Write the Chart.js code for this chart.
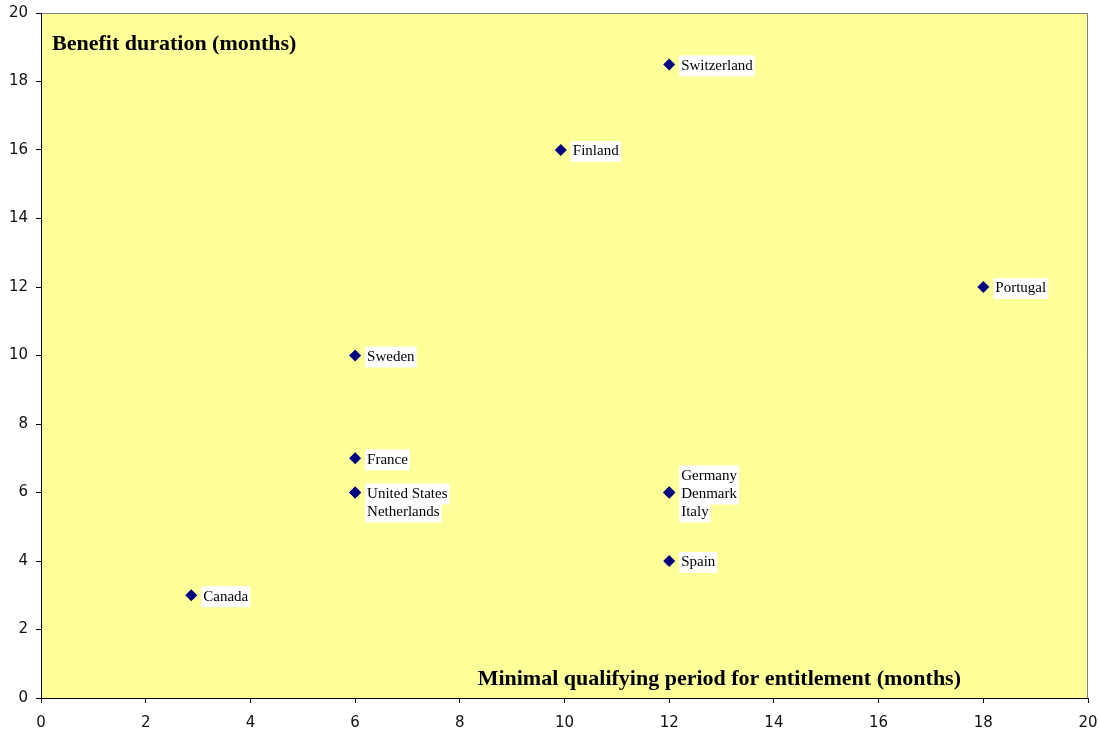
<!DOCTYPE html>
<html>
<head>
<meta charset="utf-8">
<script src="https://cdn.jsdelivr.net/npm/chart.js@4.4.1/dist/chart.umd.min.js"></script>
<style>
  html, body { margin: 0; padding: 0; background: #ffffff; }
  #wrap { width: 1100px; height: 731px; }
</style>
</head>
<body>
<div id="wrap"><canvas id="c" width="1100" height="731"></canvas></div>
<script>
// Unemployment benefit schemes by country
const countries = ['Canada', 'Sweden', 'France', 'United States', 'Netherlands', 'Finland',
  'Switzerland', 'Germany', 'Denmark', 'Italy', 'Spain', 'Portugal'];
// Minimal qualifying period for entitlement (months)
const qualifyingMonths = [2.87, 6, 6, 6, 6, 9.93, 12, 12, 12, 12, 12, 18];
// Benefit duration (months)
const durationMonths = [3, 10, 7, 6, 6, 16, 18.5, 6, 6, 6, 4, 12];
const xTicks = [0, 2, 4, 6, 8, 10, 12, 14, 16, 18, 20];
const yTicks = [0, 2, 4, 6, 8, 10, 12, 14, 16, 18, 20];
const xTitle = 'Minimal qualifying period for entitlement (months)';
const yTitle = 'Benefit duration (months)';

const points = countries.map((c, i) => ({ x: qualifyingMonths[i], y: durationMonths[i], label: c }));

const plotFrame = {
  id: 'plotFrame',
  beforeDraw(chart) {
    const { ctx, chartArea: a } = chart;
    ctx.save();
    ctx.fillStyle = '#FFFF99';
    ctx.fillRect(a.left, a.top, a.right - a.left, a.bottom - a.top);
    ctx.strokeStyle = '#808080';
    ctx.lineWidth = 1;
    ctx.beginPath();
    ctx.moveTo(a.left, a.top + 0.5);
    ctx.lineTo(a.right - 0.5, a.top + 0.5);
    ctx.lineTo(a.right - 0.5, a.bottom);
    ctx.stroke();
    ctx.restore();
  }
};

const pointLabels = {
  id: 'pointLabels',
  afterDatasetsDraw(chart) {
    const { ctx, chartArea: a } = chart;
    const meta = chart.getDatasetMeta(0);
    // labels sharing one point are stacked in a column
    const groups = {};
    points.forEach((p, i) => {
      const k = p.x + ',' + p.y;
      (groups[k] = groups[k] || []).push(i);
    });
    const lineH = 18;
    ctx.save();
    ctx.font = '15px "Liberation Serif", "Times New Roman", serif';
    ctx.textBaseline = 'middle';
    Object.values(groups).forEach(idx => {
      const start = -Math.floor((idx.length - 1) / 2);
      idx.forEach((i, j) => {
        const el = meta.data[i];
        const tx = el.x + 12;
        const ty = el.y + (start + j) * lineH;
        const w = ctx.measureText(points[i].label).width;
        ctx.fillStyle = '#ffffff';
        ctx.fillRect(tx - 2, ty - 9, w + 4, 21);
        ctx.fillStyle = '#000000';
        ctx.fillText(points[i].label, tx, ty + 1.5);
      });
    });
    // axis titles inside the plot area
    ctx.font = 'bold 22px "Liberation Serif", "Times New Roman", serif';
    ctx.fillStyle = '#000000';
    ctx.textAlign = 'left';
    ctx.fillText(yTitle, a.left + 11, a.top + 31);
    ctx.textAlign = 'right';
    ctx.fillText(xTitle, a.right - 127, a.bottom - 19);
    ctx.restore();
  }
};

new Chart(document.getElementById('c'), {
  type: 'scatter',
  data: {
    datasets: [{
      data: points,
      pointStyle: 'rectRot',
      radius: 6,
      hoverRadius: 6,
      backgroundColor: '#000080',
      borderColor: '#000080',
      borderWidth: 0
    }]
  },
  options: {
    responsive: false,
    animation: false,
    devicePixelRatio: 1,
    layout: { padding: { top: 13, right: 12, left: 0, bottom: 0 } },
    plugins: { legend: { display: false }, tooltip: { enabled: false } },
    scales: {
      x: {
        type: 'linear', min: 0, max: 20,
        afterBuildTicks: s => { s.ticks = xTicks.map(v => ({ value: v })); },
        afterFit: s => { s.height = 33; s.paddingLeft = 0; s.paddingRight = 0; },
        grid: { drawOnChartArea: false, drawTicks: true, tickLength: 5, color: '#000000' },
        border: { color: '#000000', width: 1 },
        ticks: { color: '#111111', padding: 11, maxRotation: 0,
          font: { family: '"DejaVu Sans", Verdana, sans-serif', size: 15 } }
      },
      y: {
        type: 'linear', min: 0, max: 20,
        afterBuildTicks: s => { s.ticks = yTicks.map(v => ({ value: v })); },
        afterFit: s => { s.width = 41; s.paddingTop = 0; s.paddingBottom = 0; },
        grid: { drawOnChartArea: false, drawTicks: true, tickLength: 5, color: '#000000' },
        border: { color: '#000000', width: 1 },
        ticks: { color: '#111111', padding: 8,
          font: { family: '"DejaVu Sans", Verdana, sans-serif', size: 15 } }
      }
    }
  },
  plugins: [plotFrame, pointLabels]
});
</script>
</body>
</html>
